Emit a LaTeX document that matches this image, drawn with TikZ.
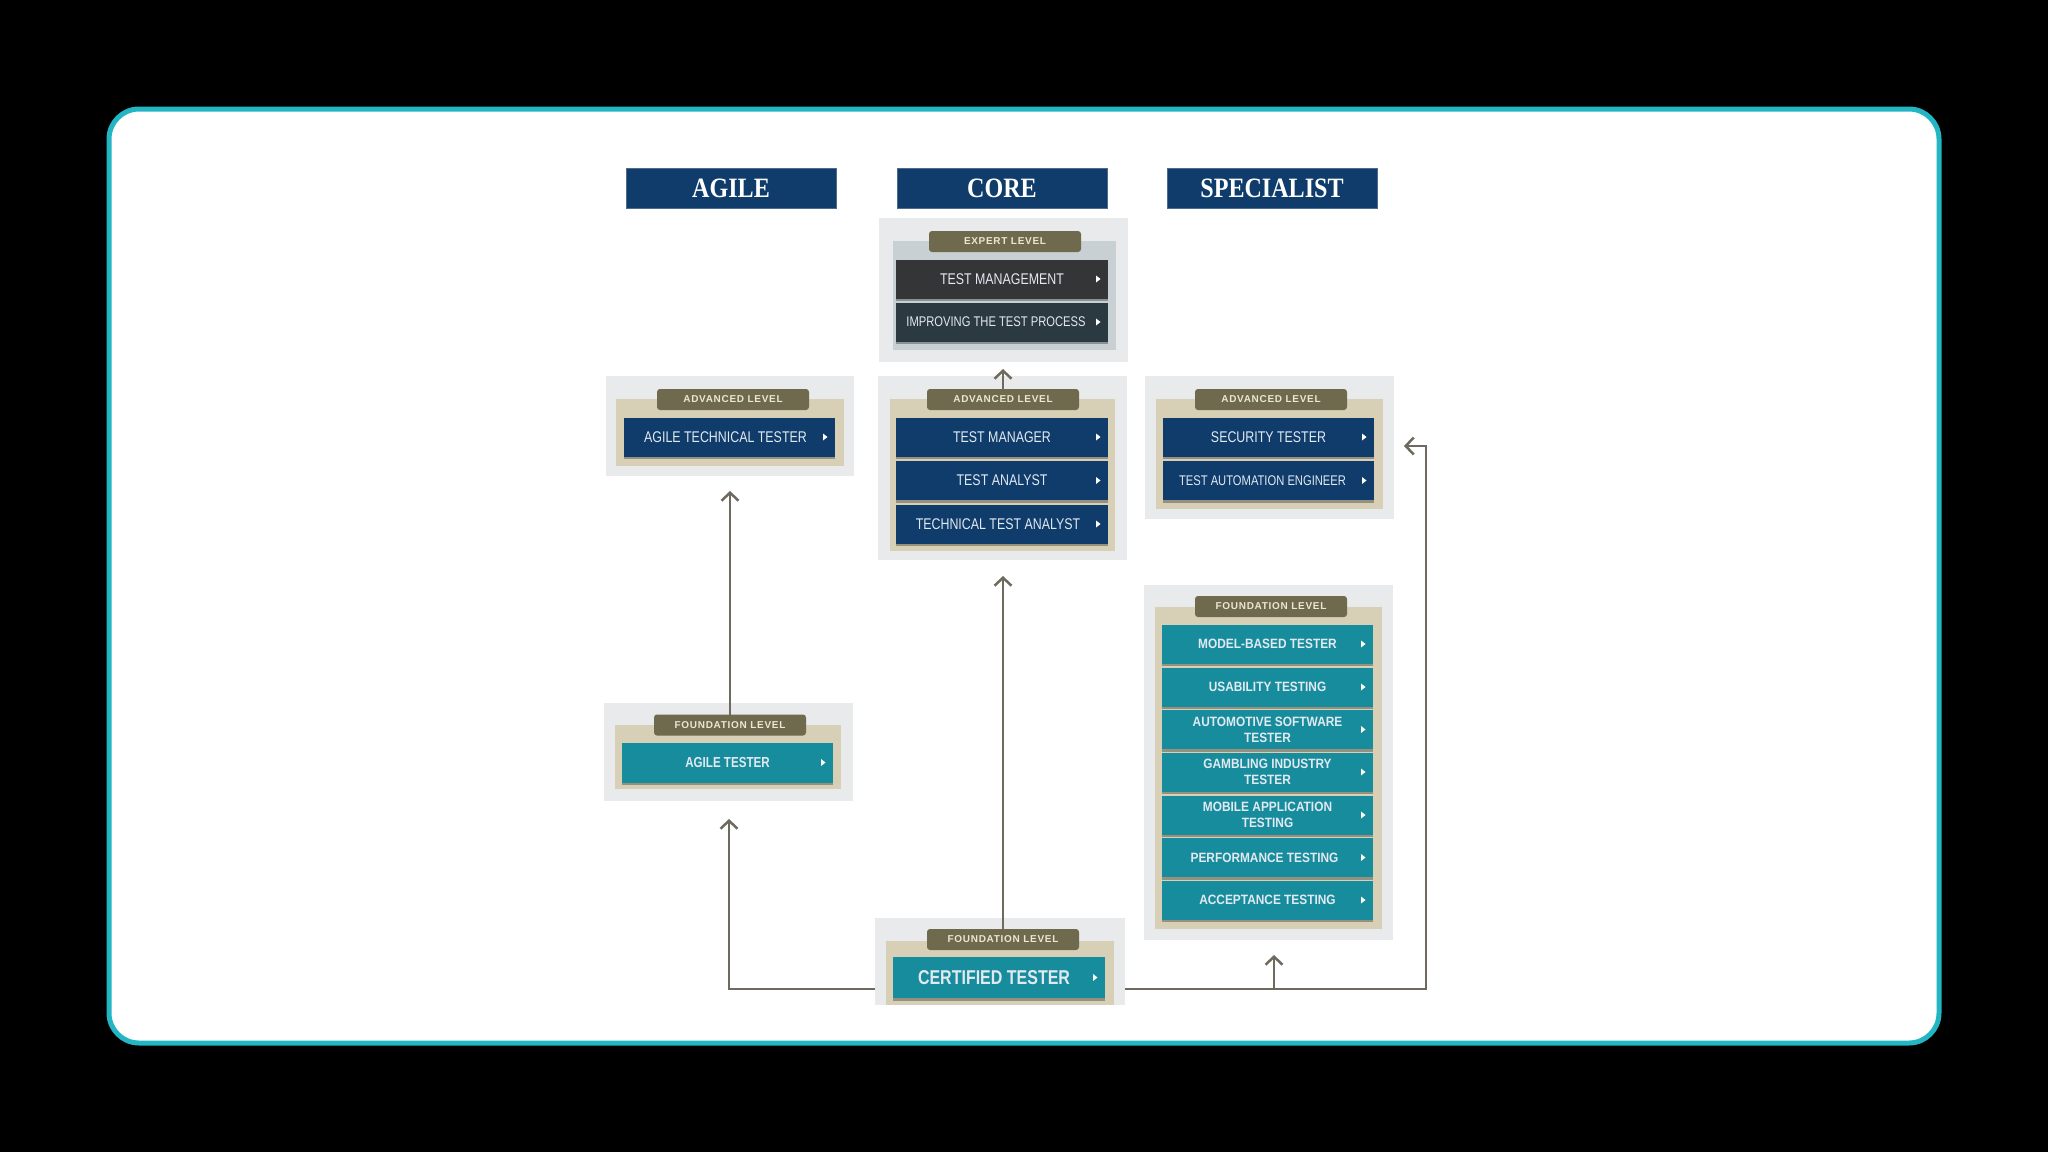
\documentclass[tikz,border=0pt]{standalone}
\usepackage{fontspec}
\usetikzlibrary{arrows.meta,shadows,fit}
\newfontfamily\headfont[FakeStretch=0.86]{Liberation Serif}
\newfontfamily\itemfont[FakeStretch=0.8]{Liberation Sans}
\newfontfamily\specfont[FakeStretch=0.88]{Liberation Sans}
\newfontfamily\tabfont[LetterSpace=7]{Liberation Sans}
\definecolor{navy}{HTML}{0F3C6B}
\definecolor{headedge}{HTML}{4D6C8C}
\definecolor{tealbox}{HTML}{168C9D}
\definecolor{charcoal}{HTML}{333536}
\definecolor{slate}{HTML}{2B3A40}
\definecolor{panelgrey}{HTML}{E9EAEC}
\definecolor{beige}{HTML}{D8CFB7}
\definecolor{greyblue}{HTML}{C8D0D3}
\definecolor{olive}{HTML}{6F6A4E}
\definecolor{tabtext}{HTML}{ECE6D2}
\definecolor{itemtext}{HTML}{E2E9F0}
\definecolor{linec}{HTML}{6E6A5E}
\definecolor{framec}{HTML}{22B6C2}
\begin{document}
\begin{tikzpicture}[x=1pt,y=-1pt,
  every node/.style={inner sep=0pt,outer sep=0pt},
  headbox/.style={fill=navy,draw=headedge,line width=1pt,minimum width=210pt,minimum height=40pt,
    text=white,font=\headfont\bfseries\fontsize{28}{30}\selectfont},
  outerpanel/.style={fill=panelgrey},
  innerpanel/.style={fill=beige},
  tabbox/.style={fill=olive,rounded corners=3pt,minimum width=152pt,minimum height=21pt,
    text=tabtext,font=\tabfont\bfseries\fontsize{10}{11}\selectfont},
  tri/.style={path picture={\fill[white] ([xshift=-12pt,yshift=3.5pt]path picture bounding box.east)
      -- ++(4.5pt,-3.5pt) -- ++(-4.5pt,-3.5pt) -- cycle;}},
  itembox/.style={tri,minimum width=211pt,minimum height=39pt,text=itemtext,align=center,
    drop shadow={shadow xshift=0pt,shadow yshift=-2.5pt,opacity=0.3,fill=black}},
  navyitem/.style={itembox,fill=navy,font=\itemfont\fontsize{15.5}{16}\selectfont},
  tealitem/.style={itembox,fill=tealbox,font=\specfont\bfseries\fontsize{13.5}{16}\selectfont},
  arr/.style={draw=linec,line width=2.5pt,-{Straight Barb[length=8pt,width=17pt]}},
  lin/.style={draw=linec,line width=2.5pt}
]
\useasboundingbox (0,0) rectangle (2048,1152);
\fill[black] (0,0) rectangle (2048,1152);
\draw[fill=white,draw=framec,line width=5pt,rounded corners=30pt] (109,109) rectangle (1939,1043);

% headers
\node[headbox] (hAgile) at (731,188) {AGILE};
\node[headbox] (hCore) at (1002,188) {CORE};
\node[headbox] (hSpec) at (1272,188) {SPECIALIST};

% panels
\node[outerpanel,fit={(879,218) (1128,362)}] (expOuter) {};
\node[fill=greyblue,fit={(893,241) (1116,350)}] (expInner) {};
\node[outerpanel,fit={(878,376) (1127,560)}] (caOuter) {};
\node[innerpanel,fit={(890,399) (1115,551)}] (caInner) {};
\node[outerpanel,fit={(606,376) (854,476)}] (aaOuter) {};
\node[innerpanel,fit={(616,399) (844,466)}] (aaInner) {};
\node[outerpanel,fit={(1145,376) (1394,519)}] (saOuter) {};
\node[innerpanel,fit={(1156,399) (1383,509)}] (saInner) {};
\node[outerpanel,fit={(1144,585) (1393,940)}] (sfOuter) {};
\node[innerpanel,fit={(1155,607) (1382,929)}] (sfInner) {};
\node[outerpanel,fit={(604,703) (853,801)}] (afOuter) {};
\node[innerpanel,fit={(615,725) (841,789)}] (afInner) {};
\node[outerpanel,fit={(875,918) (1125,1005)}] (ctOuter) {};
\node[innerpanel,fit={(886,941) (1114,1005)}] (ctInner) {};

% expert items
\node[itembox,fill=charcoal,minimum width=212pt,font=\itemfont\fontsize{15.5}{16}\selectfont] (tmg) at (1002,279) {TEST MANAGEMENT};
\node[itembox,fill=slate,minimum width=212pt,font=\itemfont\fontsize{14}{16}\selectfont] (itp) at (1002,322) {IMPROVING THE TEST PROCESS\hspace{12pt}};

% core advanced
\node[navyitem,minimum width=212pt] (tmr) at (1002,437) {TEST MANAGER};
\node[navyitem,minimum width=212pt] (tan) at (1002,480.5) {TEST ANALYST};
\node[navyitem,minimum width=212pt] (tta) at (1002,524) {TECHNICAL TEST ANALYST\hspace{8pt}};

% agile advanced
\node[navyitem] (att) at (729.5,437) {AGILE TECHNICAL TESTER\hspace{8pt}};

% specialist advanced
\node[navyitem] (sec) at (1268.5,437) {SECURITY TESTER};
\node[navyitem,font=\itemfont\fontsize{14}{16}\selectfont] (tae) at (1268.5,480.5) {TEST AUTOMATION ENGINEER\hspace{12pt}};

% specialist foundation
\node[tealitem] (mbt) at (1267.5,644) {MODEL-BASED TESTER};
\node[tealitem] (ust) at (1267.5,687) {USABILITY TESTING};
\node[tealitem] (ast) at (1267.5,729.5) {AUTOMOTIVE SOFTWARE\\TESTER};
\node[tealitem] (git) at (1267.5,772) {GAMBLING INDUSTRY\\TESTER};
\node[tealitem] (mat) at (1267.5,815) {MOBILE APPLICATION\\TESTING};
\node[tealitem] (pft) at (1267.5,857.5) {PERFORMANCE TESTING\hspace{6pt}};
\node[tealitem] (act) at (1267.5,900) {ACCEPTANCE TESTING};

% agile foundation
\node[tealitem,font=\itemfont\bfseries\fontsize{14.5}{16}\selectfont,minimum height=40pt] (agt) at (727.5,762.5) {AGILE TESTER};

% certified
\node[tealitem,minimum width=212pt,minimum height=41pt,font=\itemfont\bfseries\fontsize{20}{22}\selectfont] (cft) at (999,977.5) {CERTIFIED TESTER\hspace{10pt}};

% tabs
\node[tabbox] (tabEX) at (1005,241.5) {EXPERT LEVEL};
\node[tabbox] (tabCA) at (1003,399.5) {ADVANCED LEVEL};
\node[tabbox] (tabAA) at (733,399.5) {ADVANCED LEVEL};
\node[tabbox] (tabSA) at (1271,399.5) {ADVANCED LEVEL};
\node[tabbox] (tabSF) at (1271,606.5) {FOUNDATION LEVEL};
\node[tabbox] (tabAF) at (730,725) {FOUNDATION LEVEL};
\node[tabbox] (tabCT) at (1003,939.5) {FOUNDATION LEVEL};

% connector coordinates
\coordinate (tipAA) at (730,491);
\coordinate (tipAF) at (729,819);
\coordinate (tipCA) at (1003,576);
\coordinate (tipEX) at (1003,369);
\coordinate (cornerL) at (729,989);
\coordinate (cornerR) at (1426,989);
\coordinate (tipSA) at (1404,446);
\coordinate (tipSF) at (1274,955);

% connectors
\draw[arr] (tabAF.north) -- (tabAF.north |- tipAA);
\draw[arr] (ctOuter.west |- cornerL) -- (cornerL) -- (tipAF);
\draw[arr] (tabCT.north) -- (tabCT.north |- tipCA);
\draw[arr] (tabCA.north) -- (tabCA.north |- tipEX);
\draw[arr] (ctOuter.east |- cornerR) -- (cornerR) |- (tipSA);
\draw[arr] (tipSF |- cornerR) -- (tipSF);
\end{tikzpicture}
\end{document}
